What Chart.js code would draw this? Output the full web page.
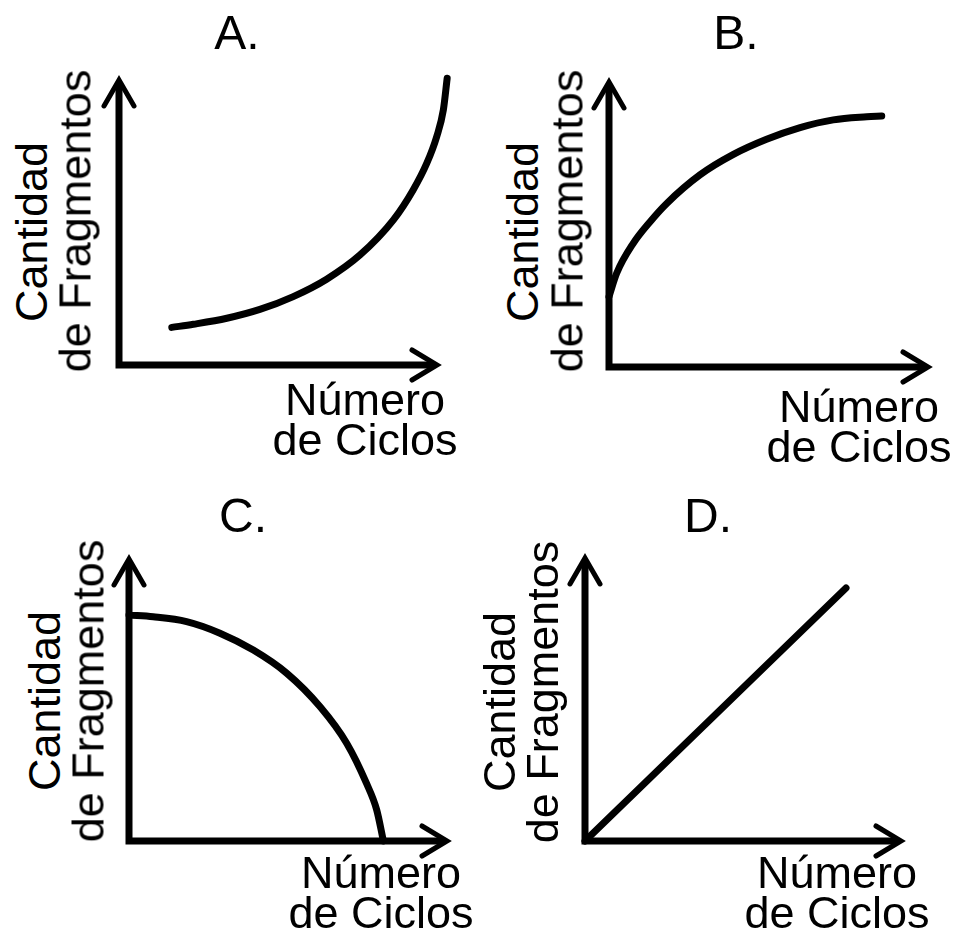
<html lang="es">
<head>
<meta charset="UTF-8">
<title>Cantidad de Fragmentos vs Número de Ciclos</title>
<script src="https://cdn.jsdelivr.net/npm/chart.js"></script>
<style>
    body {
        margin: 0;
        background: #fff;
        width: 956px;
        height: 933px;
        position: relative;
        overflow: hidden;
        font-family: 'Liberation Sans', Arial, Helvetica, sans-serif;
        color: #000;
    }

    canvas {
        position: absolute;
    }

    .txt {
        position: absolute;
        white-space: nowrap;
        line-height: 1;
    }
</style>
</head>
<body>
<script>
    // curve values, in percent of each axis length (x = ciclos, y = fragmentos)
    const cyclesA = [16.6, 23.4, 33.9, 44.3, 54.8, 65.3, 75.8, 86.3, 92.5, 96.8, 99.9, 102, 103.2];
    const fragmentsA = [13.2, 14.3, 16.4, 19.5, 24, 30.1, 38.6, 50.9, 61.4, 70.8, 80.1, 89.5, 100.6];

    const cyclesB = [0, 2.4, 7.6, 12.9, 18.1, 28.5, 39, 49.4, 59.9, 70.3, 80.8, 85.5];
    const fragmentsB = [24.7, 32.9, 43.4, 51, 57.4, 67.4, 74.6, 79.9, 84, 86.7, 87.8, 88.1];

    const cyclesC = [0, 7.6, 18.1, 28.6, 39.1, 49.6, 60.1, 68.5, 74.7, 77.9, 80];
    const fragmentsC = [80.1, 79.5, 77.8, 73.7, 67.7, 59.5, 47.6, 34.6, 20.4, 11, 0];

    const cyclesD = [0, 82.6];
    const fragmentsD = [0, 89.4];

    const panelTitles = ['A.', 'B.', 'C.', 'D.'];
    const yLabelLines = ['Cantidad', 'de Fragmentos'];
    const xLabelLines = ['Número', 'de Ciclos'];

    // layout: axis origin and arrow tips in page pixels
    const panels = [
        { ox: 119, oy: 365, tipX: 437, tipY: 80, xs: cyclesA, ys: fragmentsA, titleX: 237, titleY: 50, xlabX: 365, xlabY: 415, yl1: [47, 232], yl2: [91, 221] },
        { ox: 609, oy: 367, tipX: 928, tipY: 82, xs: cyclesB, ys: fragmentsB, titleX: 736, titleY: 50, xlabX: 859, xlabY: 422, yl1: [538, 232], yl2: [583, 221] },
        { ox: 129, oy: 841, tipX: 447, tipY: 559, xs: cyclesC, ys: fragmentsC, titleX: 243, titleY: 533, xlabX: 381, xlabY: 888, yl1: [60, 701], yl2: [104, 691] },
        { ox: 585, oy: 841, tipX: 901, tipY: 558, xs: cyclesD, ys: fragmentsD, titleX: 708, titleY: 533, xlabX: 837, xlabY: 888, yl1: [515, 702], yl2: [558, 692] }
    ];

    const PAD = 20;
    const AXIS_END = 100;   // arrow tip value
    const SCALE_MAX = 110;  // room for curve running past the tip

    // text helpers (baseline offset for line-height 1 in Liberation Sans)
    function placeText(text, cx, baseY, size) {
        const d = document.createElement('div');
        d.className = 'txt';
        d.textContent = text;
        d.style.fontSize = size + 'px';
        d.style.left = cx + 'px';
        d.style.top = (baseY - 0.8465 * size) + 'px';
        d.style.transform = 'translateX(-50%)';
        document.body.appendChild(d);
    }

    function placeVertical(text, baseX, cy, size) {
        const d = document.createElement('div');
        d.className = 'txt';
        d.textContent = text;
        d.style.fontSize = size + 'px';
        const cx = baseX - (0.8465 - 0.5) * size;
        d.style.left = cx + 'px';
        d.style.top = cy + 'px';
        d.style.transform = 'translate(-50%, -50%) rotate(-90deg)';
        document.body.appendChild(d);
    }

    // arrow axes drawn from the chart's own scales
    const arrowAxes = {
        id: 'arrowAxes',
        afterDatasetsDraw(chart) {
            const ctx = chart.ctx;
            const x = chart.scales.x, y = chart.scales.y;
            const x0 = x.getPixelForValue(0), x1 = x.getPixelForValue(AXIS_END);
            const y0 = y.getPixelForValue(0), y1 = y.getPixelForValue(AXIS_END);
            ctx.save();
            ctx.strokeStyle = '#000';
            ctx.lineCap = 'butt';
            ctx.lineWidth = 7;
            ctx.beginPath();
            ctx.moveTo(x0, y0 + 3.5);
            ctx.lineTo(x0, y1 + 2);
            ctx.moveTo(x0 - 3.5, y0);
            ctx.lineTo(x1 - 2, y0);
            ctx.stroke();
            ctx.lineWidth = 5;
            ctx.lineJoin = 'miter';
            ctx.lineCap = 'round';
            ctx.beginPath();
            ctx.moveTo(x0 - 15, y1 + 26);
            ctx.lineTo(x0, y1);
            ctx.lineTo(x0 + 15, y1 + 26);
            ctx.moveTo(x1 - 25, y0 - 15);
            ctx.lineTo(x1, y0);
            ctx.lineTo(x1 - 25, y0 + 15);
            ctx.stroke();
            ctx.restore();
        }
    };

    panels.forEach((p, i) => {
        const aw = (p.tipX - p.ox) * SCALE_MAX / AXIS_END;
        const ah = (p.oy - p.tipY) * SCALE_MAX / AXIS_END;
        const cv = document.createElement('canvas');
        const w = Math.round(aw + 2 * PAD);
        const h = Math.round(ah + 2 * PAD);
        cv.width = w;
        cv.height = h;
        cv.style.left = (p.ox - PAD) + 'px';
        cv.style.top = (p.oy + PAD - h) + 'px';
        cv.style.width = w + 'px';
        cv.style.height = h + 'px';
        document.body.appendChild(cv);

        new Chart(cv.getContext('2d'), {
            type: 'line',
            data: {
                datasets: [{
                    data: p.xs.map((v, k) => ({ x: v, y: p.ys[k] })),
                    borderColor: '#000',
                    borderWidth: 7,
                    borderCapStyle: 'round',
                    pointRadius: 0,
                    cubicInterpolationMode: 'monotone',
                    fill: false,
                    clip: false
                }]
            },
            options: {
                responsive: false,
                animation: false,
                events: [],
                layout: { padding: { left: PAD, bottom: PAD, right: w - PAD - aw, top: h - PAD - ah } },
                plugins: { legend: { display: false }, tooltip: { enabled: false } },
                scales: {
                    x: { type: 'linear', min: 0, max: SCALE_MAX, display: false },
                    y: { type: 'linear', min: 0, max: SCALE_MAX, display: false }
                }
            },
            plugins: [arrowAxes]
        });

        placeText(panelTitles[i], p.titleX, p.titleY, 48);
        placeText(xLabelLines[0], p.xlabX, p.xlabY, 45);
        placeText(xLabelLines[1], p.xlabX, p.xlabY + 40, 45);
        placeVertical(yLabelLines[0], p.yl1[0], p.yl1[1], 45);
        placeVertical(yLabelLines[1], p.yl2[0], p.yl2[1], 45);
    });
</script>
</body>
</html>
